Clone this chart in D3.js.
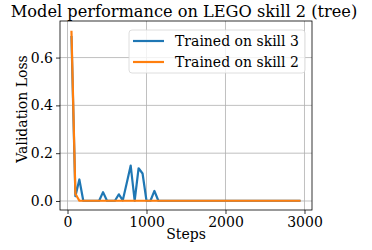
<!DOCTYPE html>
<html lang="en">
<head>
    <meta charset="UTF-8">
    <script src="https://d3js.org/d3.v7.min.js"></script>
    <style>
        body { margin: 0; background: #fff; }
        text { font-family: "DejaVu Serif", serif; fill: #000; }
    </style>
</head>
<body>
<div id="chart"></div>
<script>
    // training steps (one eval every 50 steps)
    var steps = [50, 100, 150, 200, 250, 300, 350, 400, 450, 500,
                 550, 600, 650, 700, 750, 800, 850, 900, 950, 1000,
                 1050, 1100, 1150, 1200, 1250, 1300, 1350, 1400, 1450, 1500,
                 1550, 1600, 1650, 1700, 1750, 1800, 1850, 1900, 1950, 2000,
                 2050, 2100, 2150, 2200, 2250, 2300, 2350, 2400, 2450, 2500,
                 2550, 2600, 2650, 2700, 2750, 2800, 2850, 2900, 2950];

    var skill3 = [0.69, 0.02, 0.09, 0.001, 0.001, 0.001, 0.001, 0.001, 0.037, 0.001,
                  0.001, 0.001, 0.028, 0.003, 0.075, 0.148, 0.001, 0.137, 0.115, 0.001,
                  0.001, 0.042, 0.001, 0.001, 0.001, 0.001, 0.001, 0.001, 0.001, 0.001,
                  0.001, 0.001, 0.001, 0.001, 0.001, 0.001, 0.001, 0.001, 0.001, 0.001,
                  0.001, 0.001, 0.001, 0.001, 0.001, 0.001, 0.001, 0.001, 0.001, 0.001,
                  0.001, 0.001, 0.001, 0.001, 0.001, 0.001, 0.001, 0.001, 0.001];

    var skill2 = [0.712, 0.03, 0.001, 0.001, 0.001, 0.001, 0.001, 0.001, 0.001, 0.001,
                  0.001, 0.001, 0.001, 0.001, 0.001, 0.001, 0.001, 0.001, 0.001, 0.001,
                  0.001, 0.001, 0.001, 0.001, 0.001, 0.001, 0.001, 0.001, 0.001, 0.001,
                  0.001, 0.001, 0.001, 0.001, 0.001, 0.001, 0.001, 0.001, 0.001, 0.001,
                  0.001, 0.001, 0.001, 0.001, 0.001, 0.001, 0.001, 0.001, 0.001, 0.001,
                  0.001, 0.001, 0.001, 0.001, 0.001, 0.001, 0.001, 0.001, 0.001];

    var seriesNames = ["Trained on skill 3", "Trained on skill 2"];
    var xTicks = [0, 1000, 2000, 3000];
    var yTicks = [0.0, 0.2, 0.4, 0.6];

    var colors = ["#1f77b4", "#ff7f0e"];

    var width = 372, height = 250;
    var margin = {left: 60, right: 60, top: 21, bottom: 40};

    var svg = d3.select("#chart").append("svg")
        .attr("width", width)
        .attr("height", height);

    var x = d3.scaleLinear().domain([-95, 3095]).range([margin.left, width - margin.right]);
    var y = d3.scaleLinear().domain([-0.0377, 0.753]).range([height - margin.bottom, margin.top]);

    // grid
    var grid = svg.append("g");
    grid.selectAll(".gx").data(xTicks).enter().append("line")
        .attr("x1", d => x(d)).attr("x2", d => x(d))
        .attr("y1", y.range()[0]).attr("y2", y.range()[1])
        .attr("stroke", "#b0b0b0").attr("stroke-width", 0.8);
    grid.selectAll(".gy").data(yTicks).enter().append("line")
        .attr("y1", d => y(d)).attr("y2", d => y(d))
        .attr("x1", x.range()[0]).attr("x2", x.range()[1])
        .attr("stroke", "#b0b0b0").attr("stroke-width", 0.8);

    // lines
    var line = d3.line().x(d => x(d[0])).y(d => y(d[1]));
    [skill3, skill2].forEach(function (vals, i) {
        svg.append("path")
            .datum(steps.map((s, j) => [s, vals[j]]))
            .attr("d", line)
            .attr("fill", "none")
            .attr("stroke", colors[i])
            .attr("stroke-width", 2.2)
            .attr("stroke-linejoin", "round");
    });

    // axes
    var xAxis = svg.append("g")
        .attr("transform", "translate(0," + (height - margin.bottom) + ")")
        .call(d3.axisBottom(x).tickValues(xTicks).tickFormat(d3.format("d")).tickSize(4).tickPadding(3));
    var yAxis = svg.append("g")
        .attr("transform", "translate(" + margin.left + ",0)")
        .call(d3.axisLeft(y).tickValues(yTicks).tickFormat(d3.format(".1f")).tickSize(4).tickPadding(3));
    svg.selectAll(".tick text").style("font-size", "14px").style("font-family", "DejaVu Serif");
    svg.selectAll(".domain").remove();
    svg.selectAll(".tick line").attr("stroke", "#000").attr("stroke-width", 0.8);

    // frame
    svg.append("rect")
        .attr("x", margin.left).attr("y", margin.top)
        .attr("width", width - margin.left - margin.right)
        .attr("height", height - margin.top - margin.bottom)
        .attr("fill", "none").attr("stroke", "#000").attr("stroke-width", 0.8);

    // title and labels
    svg.append("text")
        .attr("x", 184).attr("y", 17)
        .attr("text-anchor", "middle")
        .style("font-size", "16.2px")
        .text("Model performance on LEGO skill 2 (tree)");
    svg.append("text")
        .attr("x", x(1500)).attr("y", 239)
        .attr("text-anchor", "middle")
        .style("font-size", "14px")
        .text("Steps");
    svg.append("text")
        .attr("transform", "translate(27,109) rotate(-90)")
        .attr("text-anchor", "middle")
        .style("font-size", "14px")
        .text("Validation Loss");

    // legend
    var lg = svg.append("g");
    lg.append("rect")
        .attr("x", 129).attr("y", 30).attr("width", 176).attr("height", 43)
        .attr("rx", 3).attr("fill", "#fff").attr("fill-opacity", 0.8)
        .attr("stroke", "#d6d6d6").attr("stroke-width", 0.8);
    seriesNames.forEach(function (name, i) {
        var ly = 41 + i * 21;
        lg.append("line")
            .attr("x1", 133).attr("x2", 164).attr("y1", ly).attr("y2", ly)
            .attr("stroke", colors[i]).attr("stroke-width", 2.2);
        lg.append("text")
            .attr("x", 175).attr("y", ly + 5)
            .style("font-size", "14px")
            .text(name);
    });
</script>
</body>
</html>
